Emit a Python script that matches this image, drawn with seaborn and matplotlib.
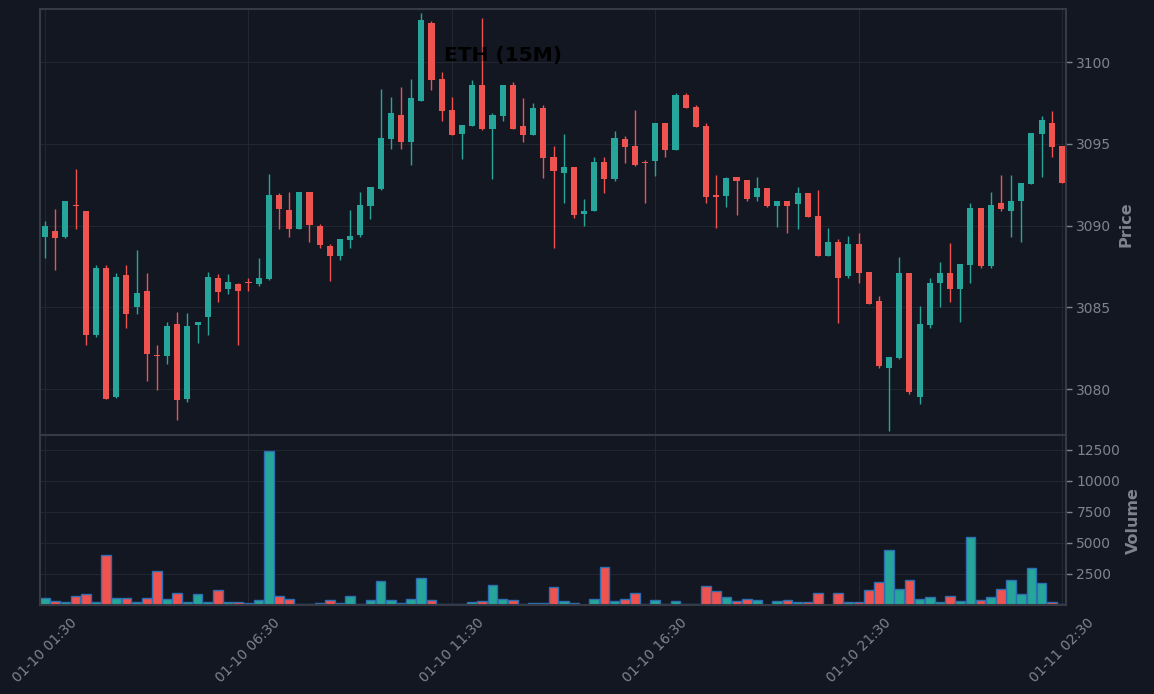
import pandas as pd
import matplotlib
matplotlib.use("Agg")
import matplotlib.pyplot as plt
import seaborn as sns
import numpy as np

# 15 minute ETH candles, 01-10 01:30 -> 01-11 02:30
opens = [3089.32, 3089.67, 3089.32, 3091.26, 3090.89, 3083.32, 3087.40, 3079.53, 3086.97, 3085.04,
         3085.99, 3082.08, 3082.04, 3083.98, 3079.41, 3083.94, 3084.42, 3086.79, 3086.13, 3086.46,
         3086.54, 3086.42, 3086.75, 3091.86, 3090.95, 3089.80, 3092.05, 3089.97, 3088.74, 3088.15,
         3089.11, 3089.42, 3091.21, 3092.25, 3095.31, 3096.76, 3095.13, 3097.63, 3102.38, 3098.96,
         3097.06, 3095.61, 3096.10, 3098.59, 3095.92, 3096.72, 3098.59, 3096.08, 3095.55, 3097.19,
         3094.19, 3093.23, 3093.58, 3090.72, 3090.91, 3093.88, 3092.86, 3095.29, 3094.86, 3093.88,
         3093.97, 3096.27, 3094.64, 3097.98, 3097.25, 3096.09, 3091.87, 3091.83, 3092.97, 3092.78,
         3091.77, 3092.29, 3091.22, 3091.50, 3091.34, 3091.99, 3090.58, 3088.16, 3088.99, 3086.93,
         3088.87, 3087.16, 3085.38, 3081.31, 3081.92, 3087.10, 3079.53, 3083.94, 3086.51, 3087.10,
         3086.14, 3087.61, 3091.07, 3087.55, 3091.38, 3090.91, 3091.52, 3092.56, 3095.62, 3096.27,
         3094.87]
highs = [3090.26, 3091.05, 3091.50, 3093.44, 3090.89, 3087.57, 3087.57, 3087.08, 3087.57, 3088.50,
         3087.08, 3082.73, 3084.14, 3084.75, 3084.63, 3084.14, 3087.16, 3087.07, 3087.07, 3086.50,
         3086.83, 3088.05, 3093.15, 3091.97, 3092.03, 3092.05, 3092.05, 3090.09, 3088.87, 3089.17,
         3090.95, 3092.05, 3092.35, 3098.35, 3097.84, 3098.45, 3098.94, 3102.98, 3102.51, 3099.39,
         3097.84, 3096.15, 3098.90, 3102.67, 3096.86, 3098.59, 3098.76, 3097.78, 3097.53, 3097.35,
         3094.86, 3095.60, 3093.58, 3091.66, 3094.17, 3094.17, 3095.78, 3095.47, 3097.06, 3093.99,
         3096.27, 3096.27, 3098.10, 3098.10, 3097.37, 3096.27, 3093.07, 3092.95, 3092.97, 3092.78,
         3092.95, 3092.29, 3091.50, 3091.50, 3092.36, 3091.99, 3092.17, 3089.83, 3089.16, 3089.34,
         3089.58, 3087.16, 3085.69, 3081.96, 3088.08, 3087.10, 3085.06, 3086.79, 3087.75, 3088.97,
         3087.65, 3091.36, 3091.07, 3092.03, 3093.07, 3093.07, 3092.60, 3095.66, 3096.70, 3096.99,
         3094.87]
lows = [3088.05, 3087.26, 3089.26, 3089.77, 3082.73, 3083.20, 3079.41, 3079.45, 3083.75, 3084.61,
        3080.53, 3079.98, 3081.57, 3078.14, 3079.23, 3082.85, 3083.34, 3085.34, 3085.85, 3082.73,
        3086.01, 3086.32, 3086.70, 3089.82, 3089.31, 3089.80, 3089.01, 3088.66, 3086.62, 3087.93,
        3088.66, 3089.31, 3090.42, 3092.20, 3094.66, 3094.66, 3093.68, 3097.60, 3098.31, 3096.43,
        3095.55, 3094.05, 3096.10, 3095.88, 3092.88, 3096.43, 3095.92, 3095.09, 3095.55, 3092.94,
        3088.66, 3091.36, 3090.44, 3089.95, 3090.91, 3091.97, 3092.76, 3093.86, 3093.66, 3091.36,
        3093.05, 3094.23, 3094.64, 3097.21, 3096.05, 3091.36, 3089.83, 3091.15, 3090.68, 3091.52,
        3091.52, 3091.15, 3089.93, 3089.58, 3089.81, 3090.54, 3088.16, 3088.16, 3084.06, 3086.81,
        3086.50, 3085.22, 3081.31, 3077.47, 3081.86, 3079.68, 3079.11, 3083.75, 3085.04, 3085.34,
        3084.08, 3086.51, 3087.44, 3087.44, 3090.87, 3089.28, 3089.03, 3092.56, 3092.95, 3094.17,
        3092.62]
closes = [3089.97, 3089.26, 3091.50, 3091.22, 3083.32, 3087.40, 3079.41, 3086.85, 3084.61, 3085.87,
          3082.16, 3082.04, 3083.85, 3079.35, 3083.85, 3084.10, 3086.85, 3085.95, 3086.54, 3086.01,
          3086.50, 3086.83, 3091.86, 3091.03, 3089.80, 3092.05, 3090.05, 3088.83, 3088.15, 3089.17,
          3089.36, 3091.25, 3092.35, 3095.35, 3096.88, 3095.13, 3097.80, 3102.57, 3098.92, 3097.02,
          3095.55, 3096.15, 3098.59, 3095.92, 3096.76, 3098.59, 3095.92, 3095.55, 3097.19, 3094.15,
          3093.35, 3093.58, 3090.66, 3090.89, 3093.88, 3092.86, 3095.35, 3094.82, 3093.72, 3093.84,
          3096.27, 3094.64, 3097.98, 3097.21, 3096.05, 3091.76, 3091.76, 3092.91, 3092.74, 3091.64,
          3092.29, 3091.22, 3091.50, 3091.22, 3091.99, 3090.54, 3088.16, 3088.99, 3086.81, 3088.87,
          3087.12, 3085.22, 3081.43, 3081.96, 3087.10, 3079.82, 3083.98, 3086.49, 3087.10, 3086.14,
          3087.65, 3091.07, 3087.55, 3091.26, 3091.03, 3091.50, 3092.60, 3095.66, 3096.46, 3094.83,
          3092.62]
volumes = [600, 350, 270, 750, 900, 270, 4000, 600, 600, 270,
           600, 2700, 520, 1000, 270, 860, 270, 1180, 270, 270,
           200, 370, 12450, 700, 460, 60, 60, 200, 370, 200,
           700, 80, 370, 1900, 370, 200, 460, 2150, 370, 100,
           80, 80, 240, 300, 1600, 460, 370, 80, 200, 200,
           1450, 300, 200, 40, 460, 3100, 300, 460, 940, 60,
           370, 60, 300, 60, 60, 1500, 1100, 620, 300, 460,
           380, 30, 300, 380, 215, 215, 940, 30, 940, 215,
           215, 1180, 1830, 4410, 1260, 1990, 460, 620, 215, 700,
           300, 5460, 380, 620, 1260, 1990, 860, 2960, 1750, 215,
           50]
times = pd.date_range("2024-01-10 01:30", periods=len(opens), freq="15min")

UP = "#26a69a"
DOWN = "#ef5350"
BG = "#131722"
GRID = "#222631"
EDGE = "#363a45"
TXT = "#7f838e"

sns.set_theme(style="darkgrid", rc={
    "figure.facecolor": BG, "axes.facecolor": BG, "axes.edgecolor": EDGE,
    "grid.color": GRID, "grid.linewidth": 0.8, "axes.linewidth": 1.5,
    "xtick.color": TXT, "ytick.color": TXT, "text.color": TXT,
    "xtick.major.size": 4, "ytick.major.size": 4,
    "xtick.major.width": 1, "ytick.major.width": 1,
})
plt.rcParams["font.family"] = ["DejaVu Sans"]

df = pd.DataFrame({"idx": np.arange(len(opens)), "open": opens, "high": highs,
                   "low": lows, "close": closes, "volume": volumes})
df["dir"] = np.where(df["close"] >= df["open"], "up", "down")
colors = np.where(df["dir"] == "up", UP, DOWN)

fig = plt.figure(figsize=(11.54, 6.94), dpi=100)
L, W = 40 / 1154, 1026 / 1154
ax = fig.add_axes([L, 1 - 435 / 694, W, 426 / 694])
axv = fig.add_axes([L, 1 - 605 / 694, W, 170 / 694], sharex=ax)

# candles
ax.vlines(df["idx"], df["low"], df["high"], colors=colors, linewidth=1, zorder=2)
body_lo = df[["open", "close"]].min(axis=1)
body_h = np.maximum((df["close"] - df["open"]).abs(), 0.06)
ax.bar(df["idx"], body_h, bottom=body_lo, width=0.6, color=colors, linewidth=0, zorder=3)

# volume
sns.barplot(data=df, x="idx", y="volume", hue="dir", palette={"up": UP, "down": DOWN},
            dodge=False, native_scale=True, width=0.95, saturation=1,
            edgecolor="#2c6fb3", linewidth=1, legend=False, ax=axv)

tick_idx = list(range(0, len(opens), 20))
axv.set_xticks(tick_idx)
axv.set_xticklabels([times[i].strftime("%m-%d %H:%M") for i in tick_idx],
                    rotation=45, fontsize=10)
ax.set_xlim(-0.5, 100.4)
ax.tick_params(axis="x", labelbottom=False, length=0)

ax.set_ylim(3077.2, 3103.25)
ax.set_yticks([3080, 3085, 3090, 3095, 3100])
axv.set_ylim(0, 13700)
axv.set_yticks([2500, 5000, 7500, 10000, 12500])
for a in (ax, axv):
    a.yaxis.tick_right()
    a.tick_params(axis="y", labelsize=10)
    a.set_xlabel("")
    a.set_ylabel("")
    a.grid(True, color=GRID, linewidth=0.8)

fig.text(1126 / 1154, 1 - 224 / 694, "Price", rotation=90, ha="center", va="center",
         fontsize=11.5, fontweight="bold", color=TXT)
fig.text(1133 / 1154, 1 - 521 / 694, "Volume", rotation=90, ha="center", va="center",
         fontsize=11.5, fontweight="bold", color=TXT)
fig.text(503 / 1154, 1 - 56 / 694, "ETH (15M)", ha="center", va="center",
         fontsize=14.5, fontweight="bold", color="black")

fig.savefig("out.png", dpi=100, facecolor=BG)
